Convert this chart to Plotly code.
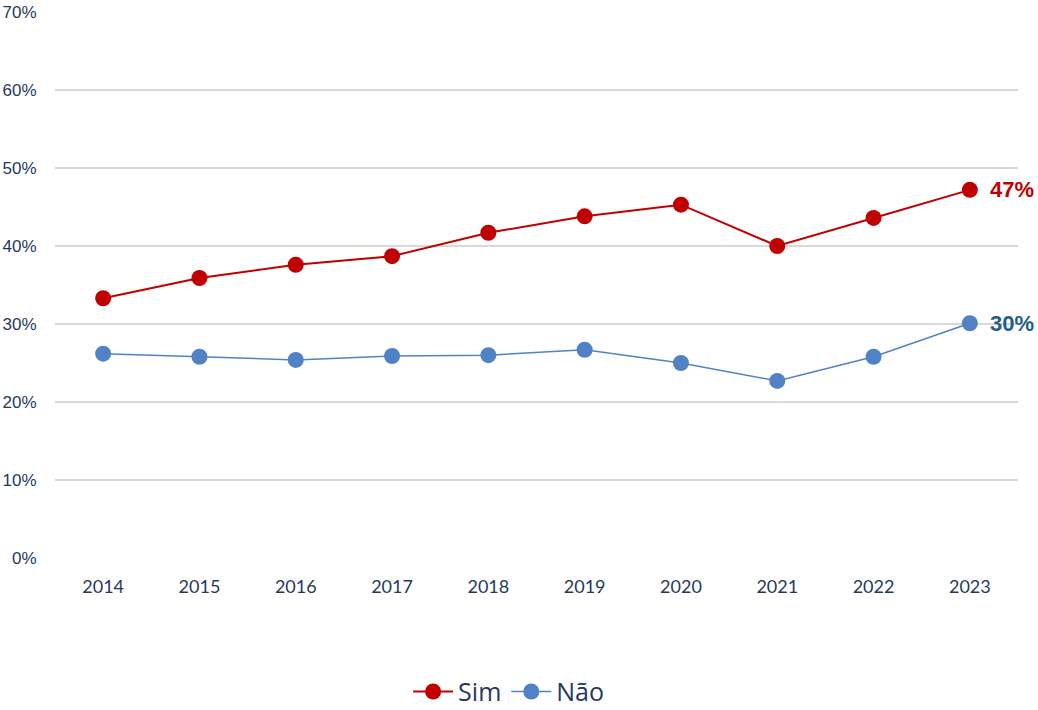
import plotly.graph_objects as go

years = ["2014", "2015", "2016", "2017", "2018", "2019", "2020", "2021", "2022", "2023"]
sim = [33.3, 35.9, 37.6, 38.7, 41.7, 43.8, 45.3, 40.0, 43.6, 47.2]
nao = [26.2, 25.8, 25.4, 25.9, 26.0, 26.7, 25.0, 22.7, 25.8, 30.1]
y_ticks = [0, 10, 20, 30, 40, 50, 60, 70]
y_tick_labels = ["0%", "10%", "20%", "30%", "40%", "50%", "60%", "70%"]

red = "#C00000"
blue = "#5082C5"
navy = "#1F3A60"

fig = go.Figure()
fig.add_trace(go.Scatter(x=years, y=sim, name="Sim", mode="lines+markers",
                         line=dict(color=red, width=2),
                         marker=dict(color=red, size=16)))
fig.add_trace(go.Scatter(x=years, y=nao, name="Não", mode="lines+markers",
                         line=dict(color=blue, width=1.5),
                         marker=dict(color=blue, size=16)))

last = len(years) - 1
fig.add_annotation(x=last, y=sim[-1], xref="x", yref="y", text="<b>47%</b>", showarrow=False,
                   xanchor="left", xshift=18, font=dict(color=red, size=22, family="Liberation Sans"))
fig.add_annotation(x=last, y=nao[-1], xref="x", yref="y", text="<b>30%</b>", showarrow=False,
                   xanchor="left", xshift=18, font=dict(color="#1F6089", size=22, family="Liberation Sans"))

fig.update_layout(
    width=1038, height=710,
    margin=dict(l=55, r=20, t=12, b=152, autoexpand=False),
    plot_bgcolor="white", paper_bgcolor="white",
    showlegend=True,
    legend=dict(orientation="h", xref="container", x=0.49, xanchor="center",
                y=-0.245, yanchor="middle",
                font=dict(size=25, color=navy, family="Open Sans"), itemwidth=40,
                traceorder="normal"),
    xaxis=dict(type="category", categoryorder="array", categoryarray=years,
               range=[-0.5, 9.5], showgrid=False, zeroline=False, showline=False,
               automargin=False,
               tickfont=dict(size=18, color=navy, family="Lato"),
               ticks="outside", ticklen=12, tickcolor="rgba(0,0,0,0)"),
    yaxis=dict(range=[0, 70], tickvals=y_ticks, ticktext=y_tick_labels,
               showgrid=True, gridcolor="#D9D9D9", gridwidth=1.5, zeroline=False,
               automargin=False,
               tickfont=dict(size=17, color=navy, family="Liberation Sans"),
               ticks="outside", ticklen=14, tickcolor="rgba(0,0,0,0)"),
)

fig.write_html("out.html", config={"displayModeBar": False},
               post_script="document.body.style.margin='0';document.body.style.overflow='hidden';")
